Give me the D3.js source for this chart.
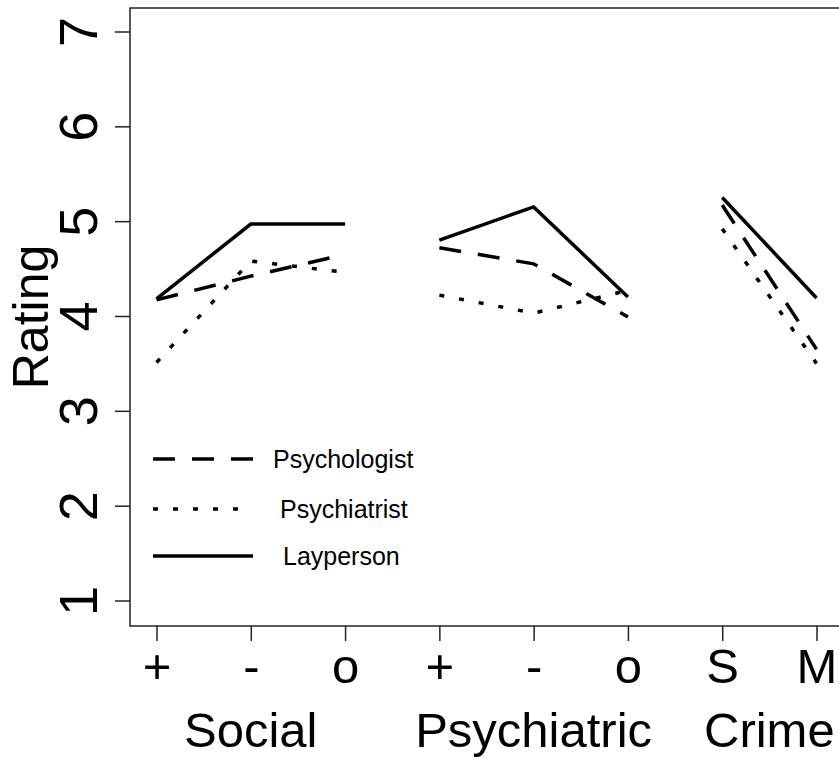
<!DOCTYPE html>
<html>
<head>
<meta charset="utf-8">
<script src="https://cdn.jsdelivr.net/npm/d3@7"></script>
<style>
  body { margin: 0; background: #fff; }
  text { font-family: "Liberation Sans", Arial, sans-serif; fill: #000; }
  .line { fill: none; stroke: #000; stroke-width: 3.5; }
  .tick line { stroke: #222; stroke-width: 1.5; }
</style>
</head>
<body>
<div id="chart"></div>
<script>
// x positions 1..8, grouped in three blocks
var categories = ["+", "-", "o", "+", "-", "o", "S", "M"]
var groups = ["Social", "Psychiatric", "Crime"]
var group_ranges = [[0, 2], [3, 5], [6, 7]]
var series_names = ["Psychologist", "Psychiatrist", "Layperson"]
var psychologist = [4.17, 4.42, 4.65, 4.72, 4.55, 3.99, 5.17, 3.65]
var psychiatrist = [3.51, 4.58, 4.46, 4.22, 4.03, 4.27, 4.92, 3.50]
var layperson = [4.18, 4.97, 4.97, 4.80, 5.15, 4.20, 5.25, 4.19]
var y_ticks = [1, 2, 3, 4, 5, 6, 7]

var width = 839, height = 758
var box = {left: 130, top: 8, right: 930, bottom: 626}

var svg = d3.select("#chart").append("svg")
  .attr("width", width)
  .attr("height", height)

var x = d3.scaleLinear().domain([1, 8]).range([156.5, 816.5])
var y = d3.scaleLinear().domain([1, 7]).range([600.5, 31.5])

var dashes = {
  "Psychologist": "22,17",
  "Psychiatrist": "5,15",
  "Layperson": null
}
var all_series = [psychologist, psychiatrist, layperson]

// plot box
svg.append("rect")
  .attr("x", box.left)
  .attr("y", box.top)
  .attr("width", box.right - box.left)
  .attr("height", box.bottom - box.top)
  .attr("fill", "none")
  .attr("stroke", "#222")
  .attr("stroke-width", 1.5)

// y axis, labels read upward
var y_axis = svg.append("g")
  .attr("transform", "translate(" + box.left + ",0)")
  .call(d3.axisLeft(y).tickValues(y_ticks).tickSize(15).tickFormat(d3.format("d")))
y_axis.select(".domain").remove()
y_axis.selectAll(".tick text")
  .attr("x", null).attr("dy", null)
  .attr("transform", "translate(-33,0) rotate(-90)")
  .attr("text-anchor", "middle")
  .style("font-size", "54px")
  .style("font-family", "'Liberation Sans', Arial, sans-serif")

// x axis
var x_axis = svg.append("g")
  .attr("transform", "translate(0," + box.bottom + ")")
  .call(d3.axisBottom(x).tickValues(d3.range(1, 9)).tickSize(15)
    .tickFormat(function (d) { return categories[d - 1] }))
x_axis.select(".domain").remove()
x_axis.selectAll(".tick text")
  .attr("y", 57).attr("dy", null)
  .style("font-size", "49px")
  .style("font-family", "'Liberation Sans', Arial, sans-serif")

// group labels
groups.forEach(function (g, i) {
  var r = group_ranges[i]
  svg.append("text")
    .attr("x", x((r[0] + r[1]) / 2 + 1))
    .attr("y", 747)
    .attr("text-anchor", "middle")
    .style("font-size", "49px")
    .text(g)
})

// y label
svg.append("text")
  .attr("transform", "translate(48," + (box.top + box.bottom) / 2 + ") rotate(-90)")
  .attr("text-anchor", "middle")
  .style("font-size", "50px")
  .text("Rating")

// series lines, broken between groups
var line = d3.line()
  .x(function (d) { return x(d.i + 1) })
  .y(function (d) { return y(d.v) })

all_series.forEach(function (values, s) {
  group_ranges.forEach(function (r) {
    var pts = []
    for (var i = r[0]; i <= r[1]; i++) pts.push({i: i, v: values[i]})
    svg.append("path")
      .attr("class", "line")
      .attr("d", line(pts))
      .attr("stroke-dasharray", dashes[series_names[s]])
  })
})

// legend
var legend_y = [459, 509, 556]
var legend_len = [100, 87, 100]
var legend_text_x = [273, 280, 283]
series_names.forEach(function (name, i) {
  svg.append("line")
    .attr("class", "line")
    .attr("x1", 153).attr("x2", 153 + legend_len[i])
    .attr("y1", legend_y[i]).attr("y2", legend_y[i])
    .attr("stroke-dasharray", dashes[name])
  svg.append("text")
    .attr("x", legend_text_x[i])
    .attr("y", legend_y[i] + 9)
    .style("font-size", "25px")
    .text(name)
})
</script>
</body>
</html>
